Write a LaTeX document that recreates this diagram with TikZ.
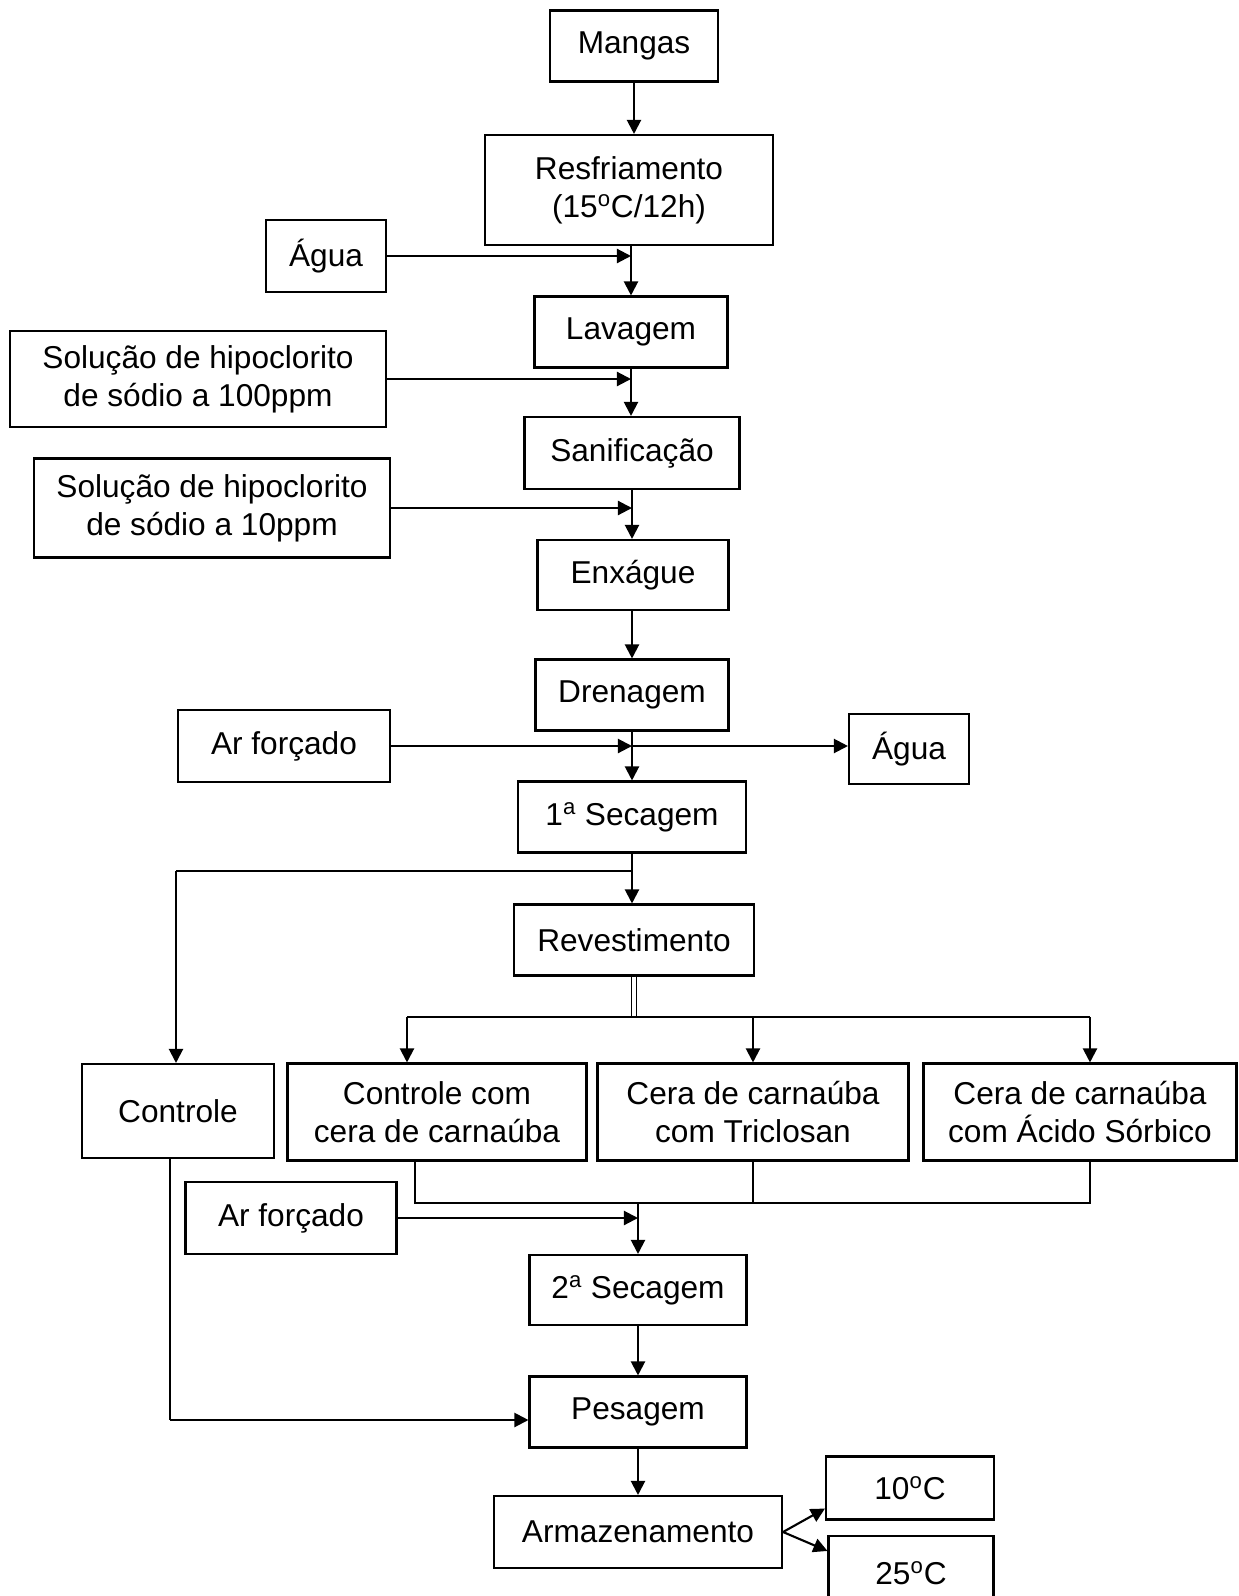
\documentclass[tikz,border=0pt]{standalone}
\usepackage{fontspec}
\setmainfont{Liberation Sans}
\usetikzlibrary{calc,positioning,arrows.meta}
\tikzset{
  stepbox/.style={draw, line width=1.2pt, align=center, inner sep=2pt, font=\fontsize{18}{21.5}\selectfont},
  arr/.style={line width=1.2pt, -{Triangle[length=8pt,width=8pt]}},
  ln/.style={line width=1.2pt}
}

\begin{document}
\begin{tikzpicture}[x=0.02cm,y=-0.02cm]
  \useasboundingbox (0,0) rectangle (1239,1596);
  \node[stepbox, minimum width=3.36cm, minimum height=1.42cm] (mangas) at (634,46) {Mangas};
  \node[stepbox, minimum width=5.76cm, minimum height=2.2cm] (resfr) at (629,190) {Resfriamento\\(15\textsuperscript{o}C/12h)};
  \node[stepbox, minimum width=2.4cm, minimum height=1.44cm] (agua1) at (326,256) {Água};
  \node[stepbox, minimum width=3.86cm, minimum height=1.42cm] (lavagem) at (631,332) {Lavagem};
  \node[stepbox, minimum width=7.52cm, minimum height=1.92cm] (sol100) at (198,379) {Solução de hipoclorito\\de sódio a 100ppm};
  \node[stepbox, minimum width=4.3cm, minimum height=1.44cm] (sanif) at (632,453) {Sanificação};
  \node[stepbox, minimum width=7.12cm, minimum height=1.98cm] (sol10) at (212,508) {Solução de hipoclorito\\de sódio a 10ppm};
  \node[stepbox, minimum width=3.82cm, minimum height=1.4cm] (enxague) at (633,575) {Enxágue};
  \node[stepbox, minimum width=3.86cm, minimum height=1.42cm] (drenagem) at (632,695) {Drenagem};
  \node[stepbox, minimum width=4.24cm, minimum height=1.44cm] (ar1) at (284,746) {Ar forçado};
  \node[stepbox, minimum width=2.4cm, minimum height=1.4cm] (agua2) at (909,749) {Água};
  \node[stepbox, minimum width=4.56cm, minimum height=1.42cm] (secagem1) at (632,817) {1\textsuperscript{a} Secagem};
  \node[stepbox, minimum width=4.8cm, minimum height=1.42cm] (revest) at (634,940) {Revestimento};
  \node[stepbox, minimum width=3.84cm, minimum height=1.88cm] (controle) at (178,1111) {Controle};
  \node[stepbox, minimum width=5.98cm, minimum height=1.94cm] (cera1) at (437,1112) {Controle com\\cera de carnaúba};
  \node[stepbox, minimum width=6.22cm, minimum height=1.94cm] (cera2) at (753,1112) {Cera de carnaúba\\com Triclosan};
  \node[stepbox, minimum width=6.26cm, minimum height=1.94cm] (cera3) at (1080,1112) {Cera de carnaúba\\com Ácido Sórbico};
  \node[stepbox, minimum width=4.22cm, minimum height=1.44cm] (ar2) at (291,1218) {Ar forçado};
  \node[stepbox, minimum width=4.34cm, minimum height=1.4cm] (secagem2) at (638,1290) {2\textsuperscript{a} Secagem};
  \node[stepbox, minimum width=4.34cm, minimum height=1.42cm] (pesagem) at (638,1412) {Pesagem};
  \node[stepbox, minimum width=5.76cm, minimum height=1.44cm] (armaz) at (638,1532) {Armazenamento};
  \node[stepbox, minimum width=3.36cm, minimum height=1.26cm] (t10) at (910,1488) {10\textsuperscript{o}C};
  \node[stepbox, minimum width=3.3cm, minimum height=1.48cm] (t25) at (911,1573) {25\textsuperscript{o}C};

  \coordinate (split) at (634,1017);
  \coordinate (s1) at (407,1017);
  \coordinate (s3) at (1090,1017);
  \coordinate (merge) at (638,1203);
  \coordinate (m1) at (415,1203);
  \coordinate (m3) at (1090,1203);
  \coordinate (ctl) at (176,871);
  \coordinate (ctlb) at (170,1420);

  \draw[arr] (mangas.south) -- (mangas.south |- resfr.north);
  \draw[arr] (resfr.south -| lavagem.north) -- (lavagem.north);
  \draw[arr] (agua1.east) -- (agua1.east -| lavagem.north);
  \draw[arr] (lavagem.south) -- (lavagem.south |- sanif.north);
  \draw[arr] (sol100.east) -- (sol100.east -| lavagem.south);
  \draw[arr] (sanif.south) -- (sanif.south |- enxague.north);
  \draw[arr] (sol10.east) -- (sol10.east -| sanif.south);
  \draw[arr] (enxague.south -| drenagem.north) -- (drenagem.north);
  \draw[arr] (drenagem.south) -- (drenagem.south |- secagem1.north);
  \draw[arr] (ar1.east) -- (ar1.east -| drenagem.south);
  \draw[arr] (ar1.east -| drenagem.south) -- (ar1.east -| agua2.west);
  \draw[arr] (secagem1.south) -- (secagem1.south |- revest.north);
  \draw[ln] (secagem1.south |- ctl) -- (ctl);
  \draw[arr] (ctl) -- (ctl |- controle.north);

  \draw[line width=0.9pt, double, double distance=2pt] (revest.south) -- (split);
  \draw[ln] (s1) -- (s3);
  \draw[arr] (s1) -- (s1 |- cera1.north);
  \draw[arr] (split -| cera2.north) -- (cera2.north);
  \draw[arr] (s3) -- (s3 |- cera3.north);

  \draw[ln] (m1 |- cera1.south) -- (m1) -- (m3) -- (m3 |- cera3.south);
  \draw[ln] (cera2.south) -- (merge -| cera2.south);
  \draw[arr] (merge) -- (merge |- secagem2.north);
  \draw[arr] (ar2.east) -- (ar2.east -| merge);

  \draw[arr] (secagem2.south) -- (secagem2.south |- pesagem.north);
  \draw[ln] (ctlb |- controle.south) -- (ctlb);
  \draw[arr] (ctlb) -- (ctlb -| pesagem.west);
  \draw[arr] (pesagem.south) -- (pesagem.south |- armaz.north);
  \draw[arr] (armaz.east) -- ($(t10.south west)+(0,-12)$);
  \draw[arr] (armaz.east) -- ($(t25.north west)+(0,16)$);
\end{tikzpicture}
\end{document}
